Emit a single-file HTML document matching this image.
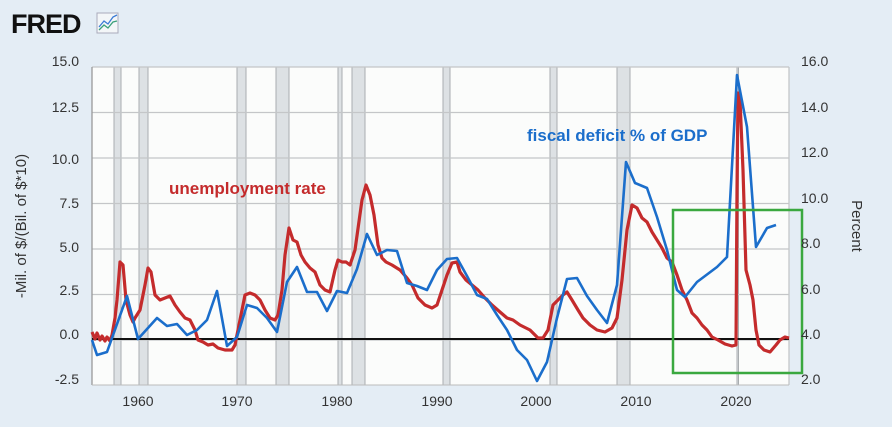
<!DOCTYPE html>
<html><head><meta charset="utf-8"><style>
html,body{margin:0;padding:0;background:#e4edf5;}
svg{display:block;font-family:"Liberation Sans",sans-serif;}
</style></head><body>
<svg width="892" height="427" viewBox="0 0 892 427">
<rect width="892" height="427" fill="#e4edf5"/>
<text x="11" y="33" font-size="27" font-weight="bold" fill="#111" letter-spacing="-1">FRED</text>
<rect x="97" y="13" width="21" height="20" fill="#f3f6f8" stroke="#aab" stroke-width="1"/>
<polyline points="99,27 104,21 108,24 113,17 117,15" fill="none" stroke="#3a7bd5" stroke-width="1.3"/>
<polyline points="99,30 104,25 108,28 113,22 117,21" fill="none" stroke="#3aa07a" stroke-width="1.3"/>
<rect x="92" y="67" width="697" height="318" fill="#fbfcfb"/>
<g fill="#dde1e4" stroke="#a9adb0" stroke-width="1">
<rect x="114" y="67" width="7" height="318"/>
<rect x="139" y="67" width="9" height="318"/>
<rect x="237" y="67" width="9" height="318"/>
<rect x="276" y="67" width="13" height="318"/>
<rect x="338" y="67" width="4" height="318"/>
<rect x="352" y="67" width="13" height="318"/>
<rect x="443" y="67" width="7" height="318"/>
<rect x="550" y="67" width="7" height="318"/>
<rect x="617" y="67" width="13" height="318"/>
<rect x="737" y="67" width="1.5" height="318"/>
</g>
<g stroke="#c4c6c8" stroke-width="1.3">
<line x1="92" y1="67" x2="789" y2="67"/><line x1="92" y1="112.5" x2="789" y2="112.5"/>
<line x1="92" y1="158" x2="789" y2="158"/><line x1="92" y1="203.5" x2="789" y2="203.5"/>
<line x1="92" y1="249" x2="789" y2="249"/><line x1="92" y1="294.5" x2="789" y2="294.5"/>
<line x1="92" y1="340" x2="789" y2="340"/>
<line x1="789" y1="67" x2="789" y2="385"/>
</g>
<line x1="92" y1="67" x2="92" y2="385" stroke="#999" stroke-width="1.3"/>
<line x1="92" y1="385" x2="789" y2="385" stroke="#bbb" stroke-width="1"/>
<line x1="92" y1="339" x2="789" y2="339" stroke="#111" stroke-width="2"/>
<polyline fill="none" stroke="#c42b2c" stroke-width="3.2" stroke-linejoin="round" points="92,332 95,339 97,333 100,340 102,336 105,341 107,337 110,341 112,335 115,318 117,300 120,262 123,265 126,300 130,315 133,322 135,318 140,310 145,285 148,268 151,272 155,295 160,300 165,298 170,296 175,305 180,312 185,318 190,320 195,330 198,340 203,342 208,345 213,344 218,348 225,350 232,350 235,345 240,320 245,295 250,293 255,295 260,300 265,310 270,318 275,320 278,315 282,290 285,255 289,228 293,240 297,242 301,255 305,262 310,268 315,272 320,285 325,290 330,292 335,270 338,260 342,262 346,262 350,265 355,250 362,200 366,185 370,195 374,215 378,245 382,258 386,262 392,265 400,270 407,278 412,285 418,298 425,305 432,308 437,305 442,290 447,275 452,263 457,262 460,272 466,280 472,285 478,290 485,298 492,305 500,312 507,318 513,320 520,325 530,330 538,338 543,338 548,330 553,305 558,300 563,295 567,292 572,300 578,310 583,318 590,325 597,330 605,332 612,328 617,318 622,280 627,230 632,205 637,208 642,218 647,222 652,232 657,240 662,248 667,258 672,262 677,275 682,290 687,300 692,313 697,318 702,325 707,330 712,337 718,340 725,344 732,346 736,345 737,190 738,93 740,100 743,170 746,270 750,285 753,300 756,330 759,345 764,350 770,352 776,345 780,340 785,337 789,338"/>
<polyline fill="none" stroke="#1b6ecb" stroke-width="2.6" stroke-linejoin="round" points="92,340 97,355 107,352 127,296 138,339 157,318 167,326 177,324 187,335 197,330 207,320 217,291 227,346 237,337 247,305 257,308 267,318 277,332 287,282 297,267 307,292 317,292 327,311 337,291 347,293 357,269 367,234 377,255 387,250 397,251 407,283 417,286 427,290 437,270 447,259 457,258 467,276 477,295 487,299 497,315 507,330 517,350 527,360 537,381 547,362 557,318 567,279 577,278 587,296 597,310 607,323 617,285 626,162 635,183 647,188 657,217 667,250 677,290 685,297 697,282 717,267 727,257 737,75 747,127 756,247 767,228 776,225"/>
<rect x="673" y="210" width="129" height="163" fill="none" stroke="#3aa83f" stroke-width="2.5"/>
<text x="169" y="194" font-size="17" font-weight="bold" fill="#c42b2c">unemployment rate</text>
<text x="527" y="141" font-size="17" font-weight="bold" fill="#1b6ecb">fiscal deficit % of GDP</text>
<g font-size="14" fill="#333" text-anchor="end">
<text x="79" y="66">15.0</text><text x="79" y="112">12.5</text><text x="79" y="164">10.0</text>
<text x="79" y="208">7.5</text><text x="79" y="252">5.0</text><text x="79" y="295">2.5</text>
<text x="79" y="339">0.0</text><text x="79" y="384">-2.5</text>
</g>
<g font-size="14" fill="#333">
<text x="801" y="66">16.0</text><text x="801" y="112">14.0</text><text x="801" y="157">12.0</text>
<text x="801" y="203">10.0</text><text x="801" y="248">8.0</text><text x="801" y="294">6.0</text>
<text x="801" y="339">4.0</text><text x="801" y="384">2.0</text>
</g>
<g font-size="14" fill="#333" text-anchor="middle">
<text x="138" y="406">1960</text><text x="237" y="406">1970</text><text x="337" y="406">1980</text>
<text x="437" y="406">1990</text><text x="536" y="406">2000</text><text x="636" y="406">2010</text>
<text x="736" y="406">2020</text>
</g>
<text transform="translate(26,226) rotate(-90)" font-size="15" fill="#333" text-anchor="middle">-Mil. of $/(Bil. of $*10)</text>
<text transform="translate(852,226) rotate(90)" font-size="15" fill="#333" text-anchor="middle">Percent</text>
</svg>
</body></html>
